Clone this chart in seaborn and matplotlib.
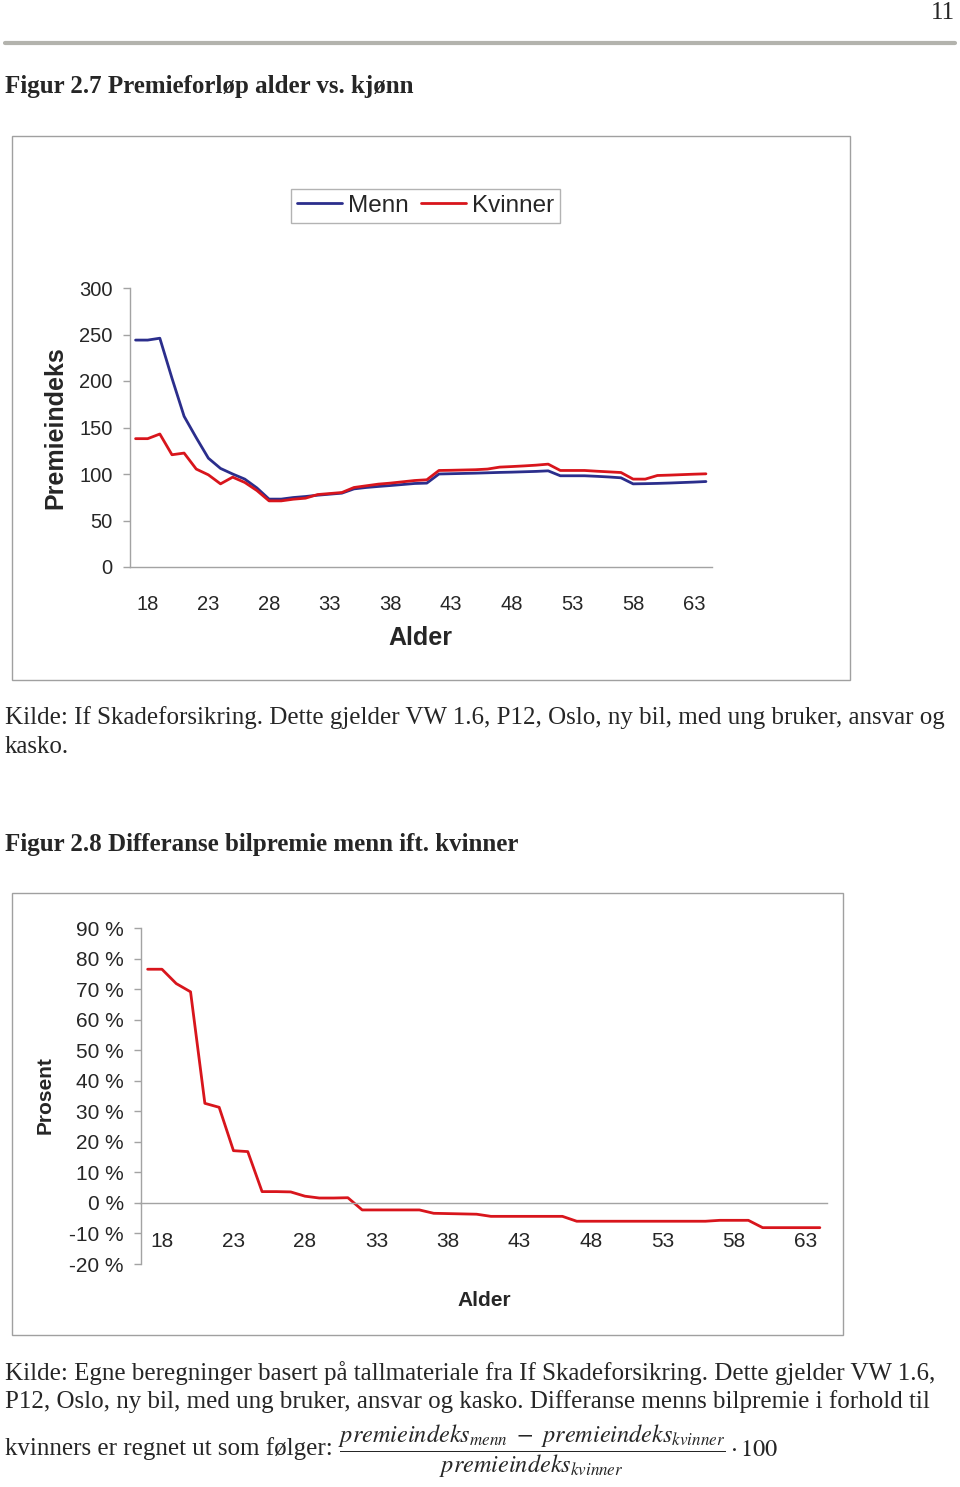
import matplotlib
matplotlib.use("Agg")
import matplotlib.pyplot as plt
from matplotlib.lines import Line2D
from matplotlib.patches import Rectangle
import numpy as np
import pandas as pd
import seaborn as sns

# Data
ages = list(range(17, 65))
menn = [244, 244, 246, 203, 162, 139, 117, 106, 100, 94.5, 85, 73,
        73, 74.7, 75.8, 77.2, 78.3, 79.4, 84, 85.5, 86.6, 87.6, 88.7, 89.8,
        90.2, 100, 100.3, 100.6, 100.9, 101.3, 101.7, 102, 102.4, 102.8, 103.4, 98.1,
        98.1, 98.1, 97.5, 96.8, 95.9, 89.4, 89.6, 89.9, 90.3, 90.8, 91.3, 91.9]
kvinner = [138, 138, 143, 120.7, 122.5, 105.3, 99.1, 89.4, 96.6, 90.9, 82.2, 71.1,
           71.1, 72.9, 74, 77.9, 79, 80.1, 85.5, 87.3, 89.1, 90.2, 91.6, 93,
           93.8, 103.8, 104, 104.3, 104.6, 105.3, 107.4, 108, 108.7, 109.5, 110.6, 103.8,
           103.8, 103.8, 103, 102.3, 101.6, 94.5, 94.5, 98.4, 98.8, 99.3, 99.8, 100.2]
differanse = [76.5, 76.5, 71.8, 69.1, 32.6, 31.3, 17.1, 16.8, 3.7, 3.7, 3.6, 2.2,
              1.6, 1.6, 1.7, -2.3, -2.3, -2.3, -2.3, -2.3, -3.4, -3.5, -3.6, -3.7,
              -4.4, -4.4, -4.4, -4.4, -4.4, -4.4, -6.0, -6.0, -6.0, -6.0, -6.0, -6.0,
              -6.0, -6.0, -6.0, -6.0, -5.7, -5.7, -5.7, -8.1, -8.1, -8.1, -8.1, -8.1]
age_labels = [18, 23, 28, 33, 38, 43, 48, 53, 58, 63]
index_ticks = [0, 50, 100, 150, 200, 250, 300]
pct_ticks = [-20, -10, 0, 10, 20, 30, 40, 50, 60, 70, 80, 90]

BLUE = "#2b2e8c"
RED = "#d8151c"
AXIS = "#a3a3a3"
FRAME = "#a0a0a0"

sns.set_style("white")
plt.rcParams["font.family"] = ["Liberation Sans", "DejaVu Sans"]
plt.rcParams["mathtext.fontset"] = "stix"

W, H = 960, 1487
fig = plt.figure(figsize=(W / 100, H / 100), dpi=100)
SERIF = ["Liberation Serif", "DejaVu Serif"]
BODY = 18


def fx(x):
    return x / W


def fy(y):
    return 1 - y / H


def style_axis(ax, fs):
    for side in ["top", "right"]:
        ax.spines[side].set_visible(False)
    for side in ["left", "bottom"]:
        ax.spines[side].set_color(AXIS)
        ax.spines[side].set_linewidth(1)
    ax.set_xlim(16.5, 64.5)
    ax.set_xticks(age_labels)
    ax.set_xticks(np.arange(21.5, 64, 5), minor=True)
    ax.tick_params(axis="x", which="major", length=0, pad=20, labelsize=fs)
    ax.tick_params(axis="x", which="minor", length=5, color=AXIS, width=1, direction="out")
    ax.tick_params(axis="y", which="major", length=5, color=AXIS, width=1, pad=7, labelsize=fs,
                   direction="out", left=True)
    ax.set_xlabel("")
    ax.set_ylabel("")
    ax.grid(False)


# page header
fig.text(fx(955), fy(13), "11", ha="right", va="center", fontsize=BODY, family=SERIF)
fig.add_artist(Line2D([fx(5), fx(955)], [fy(43), fy(43)], color="#b3b3ad", lw=3))
fig.text(fx(5), fy(87), "Figur 2.7 Premieforløp alder vs. kjønn", ha="left", va="center",
         fontsize=BODY, fontweight="bold", family=SERIF)

# ---- Figure 2.7 ----
fig.add_artist(Rectangle((fx(12), fy(680)), fx(838), 544 / H, transform=fig.transFigure,
                         fill=False, edgecolor=FRAME, lw=1))
ax1 = fig.add_axes([fx(129.5), fy(567), fx(712 - 129.5), 279 / H])
df_top = pd.DataFrame({
    "Alder": ages + ages,
    "Premieindeks": menn + kvinner,
    "Kjønn": ["Menn"] * len(ages) + ["Kvinner"] * len(ages),
})
sns.lineplot(data=df_top, x="Alder", y="Premieindeks", hue="Kjønn", estimator=None,
             palette={"Menn": BLUE, "Kvinner": RED}, linewidth=2, ax=ax1, legend=False)
ax1.set_ylim(0, 300)
ax1.set_yticks(index_ticks)
style_axis(ax1, 14.5)
fig.text(fx(55), fy(428), "Premieindeks", rotation=90, ha="center", va="center",
         fontsize=18, fontweight="bold")
fig.text(fx(420), fy(638), "Alder", ha="center", va="center", fontsize=18, fontweight="bold")

handles = [Line2D([], [], color=BLUE, lw=2), Line2D([], [], color=RED, lw=2)]
leg = fig.legend(handles, ["Menn", "Kvinner"], loc="center", bbox_to_anchor=(fx(425.5), fy(206)),
                 ncol=2, frameon=True, fancybox=False, edgecolor=FRAME, fontsize=17.5,
                 handlelength=1.85, handletextpad=0.25, columnspacing=0.5, borderpad=0.25)
leg.get_frame().set_linewidth(1)

fig.text(fx(5), fy(718), "Kilde: If Skadeforsikring. Dette gjelder VW 1.6, P12, Oslo, ny bil, med ung bruker, ansvar og",
         ha="left", va="center", fontsize=BODY, family=SERIF)
fig.text(fx(5), fy(747), "kasko.", ha="left", va="center", fontsize=BODY, family=SERIF)

fig.text(fx(5), fy(845), "Figur 2.8 Differanse bilpremie menn ift. kvinner", ha="left", va="center",
         fontsize=BODY, fontweight="bold", family=SERIF)

# ---- Figure 2.8 ----
fig.add_artist(Rectangle((fx(12), fy(1335)), fx(831), 442 / H, transform=fig.transFigure,
                         fill=False, edgecolor=FRAME, lw=1))
ax2 = fig.add_axes([fx(140.5), fy(1264), fx(827 - 140.5), 336 / H])
df_bot = pd.DataFrame({"Alder": ages, "Prosent": differanse})
sns.lineplot(data=df_bot, x="Alder", y="Prosent", estimator=None, color=RED, linewidth=2, ax=ax2)
ax2.set_ylim(-20, 90)
ax2.set_yticks(pct_ticks)
ax2.set_yticklabels([f"{t} %" for t in pct_ticks])
style_axis(ax2, 15)
ax2.spines["bottom"].set_position(("data", 0))
ax2.tick_params(axis="x", which="major", pad=21)
fig.text(fx(45), fy(1095), "Prosent", rotation=90, ha="center", va="center",
         fontsize=15, fontweight="bold")
fig.text(fx(484), fy(1300), "Alder", ha="center", va="center", fontsize=15, fontweight="bold")

fig.text(fx(5), fy(1373),
         "Kilde: Egne beregninger basert på tallmateriale fra If Skadeforsikring. Dette gjelder VW 1.6,",
         ha="left", va="center", fontsize=BODY, family=SERIF)
fig.text(fx(5), fy(1402),
         "P12, Oslo, ny bil, med ung bruker, ansvar og kasko. Differanse menns bilpremie i forhold til",
         ha="left", va="center", fontsize=BODY, family=SERIF)
fig.text(fx(5), fy(1449), "kvinners er regnet ut som følger:", ha="left", va="center",
         fontsize=BODY, family=SERIF)
fig.text(fx(338), fy(1451),
         r"$\dfrac{premieindeks_{menn}\ -\ premieindeks_{kvinner}}{premieindeks_{kvinner}}\cdot 100$",
         ha="left", va="center", fontsize=17.5)

fig.savefig("out.png", dpi=100)
